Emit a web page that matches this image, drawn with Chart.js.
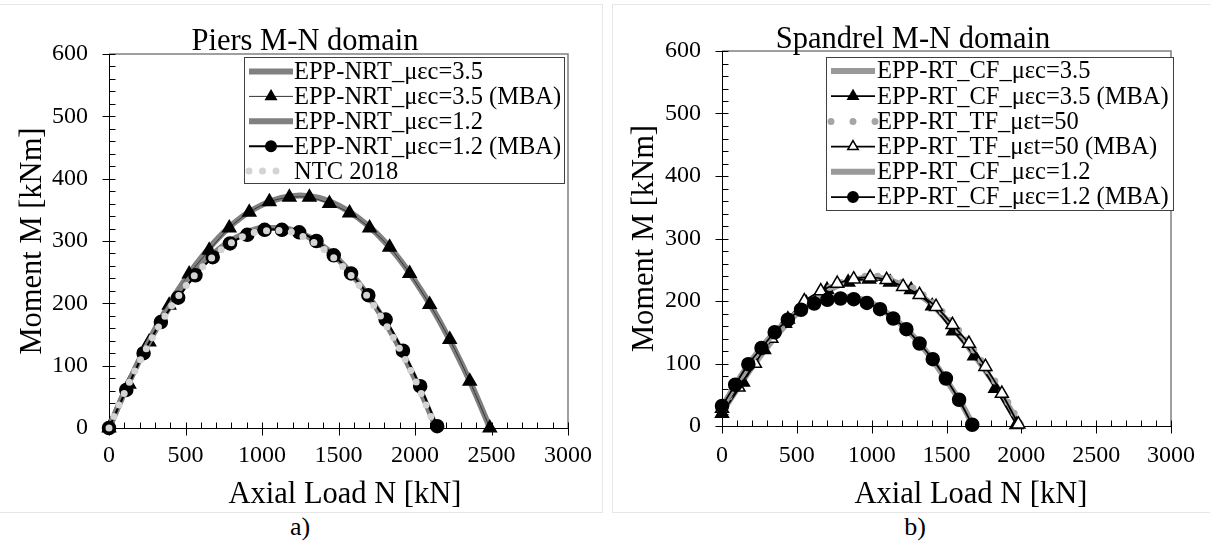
<!DOCTYPE html>
<html>
<head>
<meta charset="utf-8">
<script src="https://cdn.jsdelivr.net/npm/chart.js@4.4.1/dist/chart.umd.min.js"></script>
<style>
  html, body { margin: 0; padding: 0; background: #fff; }
  body { width: 1210px; height: 544px; position: relative; overflow: hidden; font-family: 'Liberation Serif', serif; }
  .panel { position: absolute; top: 4px; height: 507px; border: 1px solid #e6e6e6; }
  .box { position: absolute; top: 0; height: 510px; width: 605px; }
  .cap { position: absolute; top: 512px; width: 60px; line-height: 30px; font-size: 26px; text-align: center; color: #000; }
</style>
</head>
<body>
<div class="panel" style="left:-1px;width:602px"></div>
<div class="panel" style="left:612px;width:600px"></div>
<div class="box" style="left:0"><canvas id="piers"></canvas></div>
<div class="box" style="left:605px"><canvas id="spandrel"></canvas></div>
<div class="cap" style="left:270px">a)</div>
<div class="cap" style="left:885px">b)</div>
<script>
// ---- Piers M-N domain (a) ----
const piersN35 = [0, 125, 250, 375, 500, 625, 750, 875, 1000, 1125, 1250, 1375, 1500, 1625, 1750, 1875, 2000, 2125, 2250, 2375, 2490]
const piersM35 = [0, 71, 135, 191, 239, 280, 314, 340, 358, 369, 373, 369, 357, 338, 312, 278, 236, 187, 130, 66, 0]
const piersN35mba = [0, 131, 262, 393, 524, 655, 786, 917, 1048, 1179, 1310, 1441, 1572, 1703, 1834, 1965, 2096, 2227, 2358, 2489]
const piersM35mba = [0, 70, 138, 197, 247, 285, 321, 346, 363, 370, 370, 360, 345, 321, 290, 248, 198, 142, 75, 0]
const piersN12 = [0, 125, 250, 375, 500, 625, 750, 875, 1000, 1125, 1250, 1375, 1500, 1625, 1750, 1875, 2000, 2140]
const piersM12 = [0, 71, 133, 186, 231, 266, 293, 311, 321, 321, 313, 296, 270, 235, 192, 140, 79, 0]
const piersN12mba = [0, 113, 226, 339, 452, 565, 678, 791, 904, 1017, 1130, 1243, 1356, 1469, 1582, 1695, 1808, 1921, 2034, 2145]
const piersM12mba = [0, 61, 120, 170, 209, 245, 274, 296, 310, 318, 318, 314, 300, 277, 248, 213, 174, 124, 67, 3]
const piersNntc = [0, 125, 250, 375, 500, 625, 750, 875, 1000, 1125, 1250, 1375, 1500, 1625, 1750, 1875, 2000, 2135]
const piersMntc = [0, 69, 130, 183, 227, 262, 289, 307, 316, 317, 309, 292, 266, 232, 189, 138, 78, 0]

// ---- Spandrel M-N domain (b) ----
const spanN35 = [0, 125, 250, 375, 500, 625, 750, 875, 1000, 1125, 1250, 1375, 1500, 1625, 1750, 1875, 1990]
const spanM35 = [22, 68, 110, 148, 180, 205, 222, 233, 238, 233, 220, 200, 170, 133, 92, 48, 0]
const spanN35mba = [0, 140, 281, 421, 562, 702, 843, 983, 1124, 1264, 1405, 1545, 1686, 1826, 1967]
const spanM35mba = [20, 70, 122, 164, 197, 218, 230, 235, 230, 218, 192, 152, 112, 60, 2]
const spanNtf = [0, 125, 250, 375, 500, 625, 750, 875, 1000, 1125, 1250, 1375, 1500, 1625, 1750, 1875, 2000]
const spanMtf = [30, 74, 114, 152, 184, 208, 225, 236, 240, 236, 224, 204, 176, 140, 98, 52, 0]
const spanNtfmba = [0, 110, 220, 330, 440, 550, 660, 770, 880, 990, 1100, 1210, 1320, 1430, 1540, 1650, 1760, 1870, 1980]
const spanMtfmba = [28, 62, 100, 140, 171, 200, 216, 228, 235, 238, 234, 223, 210, 191, 162, 132, 95, 52, 3]
const spanN12 = [0, 100, 200, 300, 400, 500, 600, 700, 800, 900, 1000, 1100, 1200, 1300, 1400, 1500, 1600, 1680]
const spanM12 = [30, 70, 106, 136, 161, 181, 195, 203, 207, 205, 197, 181, 162, 138, 108, 73, 36, 0]
const spanN12mba = [0, 88, 176, 264, 352, 440, 528, 616, 704, 792, 880, 968, 1056, 1144, 1232, 1320, 1408, 1496, 1584, 1672]
const spanM12mba = [32, 66, 99, 125, 150, 170, 186, 196, 202, 204, 203, 197, 187, 172, 155, 132, 107, 76, 42, 2]

const xTickStep = 500
const yTickStep = 100

Chart.defaults.font.family = 'Liberation Serif'
Chart.defaults.color = '#000'

function pts(ns, ms) {
    return ns.map((n, i) => ({x: n, y: ms[i]}))
}

function thickLine(label, data, color) {
    return {label, data, borderColor: color, borderWidth: 6, pointRadius: 0, cubicInterpolationMode: 'monotone', clip: false}
}

function dotLine(label, data, color) {
    return {label, data, borderColor: color, borderWidth: 7, borderDash: [0, 12.5], borderCapStyle: 'round',
        pointRadius: 0, cubicInterpolationMode: 'monotone', clip: false}
}

function markLine(label, data, style, fill, lineColor, lineWidth, radius) {
    return {label, data, borderColor: lineColor, borderWidth: lineWidth, tension: 0.3,
        pointStyle: style, pointRadius: radius, pointBackgroundColor: fill, pointBorderColor: '#000',
        pointBorderWidth: 1.5, clip: false}
}

function drawMarker(ctx, style, x, y, r, fill) {
    ctx.beginPath()
    if (style === 'triangle') {
        let rad = 0
        ctx.moveTo(x + Math.sin(rad) * r, y - Math.cos(rad) * r)
        rad += Math.PI * 2 / 3
        ctx.lineTo(x + Math.sin(rad) * r, y - Math.cos(rad) * r)
        rad += Math.PI * 2 / 3
        ctx.lineTo(x + Math.sin(rad) * r, y - Math.cos(rad) * r)
        ctx.closePath()
    } else {
        ctx.arc(x, y, r, 0, Math.PI * 2)
    }
    ctx.fillStyle = fill
    ctx.fill()
    ctx.lineWidth = 1.5
    ctx.strokeStyle = '#000'
    ctx.setLineDash([])
    ctx.stroke()
}

// ticks crossing the axes, minor ticks inside, grey frame on top and right
const axisMarks = {
    id: 'axisMarks',
    beforeDatasetsDraw(chart) {
        const {ctx, chartArea: a, scales: {x, y}} = chart
        ctx.save()
        ctx.strokeStyle = '#808080'
        ctx.lineWidth = 1.5
        ctx.beginPath()
        ctx.moveTo(a.left, a.top)
        ctx.lineTo(a.right, a.top)
        ctx.lineTo(a.right, a.bottom)
        ctx.stroke()

        ctx.strokeStyle = '#000'
        ctx.lineWidth = 1
        ctx.beginPath()
        const yAxis = Math.round(a.bottom) + 0.5
        const xAxis = Math.round(a.left) + 0.5
        for (let v = x.min; v <= x.max; v += xTickStep / 5) {
            const px = Math.round(x.getPixelForValue(v)) + 0.5
            const major = v % xTickStep === 0
            ctx.moveTo(px, yAxis - 6)
            ctx.lineTo(px, major ? yAxis + 7 : yAxis)
        }
        for (let v = y.min; v <= y.max; v += yTickStep / 5) {
            const py = Math.round(y.getPixelForValue(v)) + 0.5
            const major = v % yTickStep === 0
            ctx.moveTo(major ? xAxis - 7 : xAxis, py)
            ctx.lineTo(xAxis + 6, py)
        }
        ctx.stroke()
        ctx.restore()
    },
    afterDraw(chart, args, o) {
        // panel title and x axis title, placed like in the original figure
        const ctx = chart.ctx
        ctx.save()
        ctx.fillStyle = '#000'
        ctx.textAlign = 'center'
        ctx.textBaseline = 'alphabetic'
        ctx.font = o.titleSize + 'px "Liberation Serif"'
        ctx.fillText(o.title, o.titleX, o.titleY)
        ctx.font = o.axisSize + 'px "Liberation Serif"'
        ctx.fillText(o.xTitle, o.xTitleX, o.xTitleY)
        ctx.restore()
    }
}

// boxed legend inside the plot, like the spreadsheet one
const boxLegend = {
    id: 'boxLegend',
    afterDatasetsDraw(chart, args, o) {
        const ctx = chart.ctx
        ctx.save()
        ctx.fillStyle = '#fff'
        ctx.fillRect(o.left, o.top, o.width, o.height)
        ctx.strokeStyle = '#404040'
        ctx.lineWidth = 1
        ctx.strokeRect(Math.round(o.left) + 0.5, Math.round(o.top) + 0.5, o.width, o.height)
        chart.data.datasets.forEach((ds, i) => {
            const cy = o.top + o.firstRow + i * o.rowH
            const x0 = o.left + o.sampleX
            const x1 = x0 + (ds.borderDash ? o.dotW : o.sampleW)
            ctx.strokeStyle = ds.borderColor
            ctx.lineWidth = ds.borderDash ? ds.borderWidth : Math.min(ds.borderWidth, 6)
            ctx.setLineDash(ds.borderDash ? [0, o.dotGap] : [])
            ctx.lineCap = ds.borderDash ? 'round' : 'butt'
            ctx.beginPath()
            ctx.moveTo(x0, cy)
            ctx.lineTo(x1, cy)
            ctx.stroke()
            if (ds.pointRadius > 0) {
                drawMarker(ctx, ds.pointStyle, o.left + o.sampleX + o.sampleW / 2, cy, ds.pointRadius * 0.8, ds.pointBackgroundColor)
            }
            ctx.setLineDash([])
            ctx.fillStyle = '#000'
            ctx.font = o.fontSize + 'px "Liberation Serif"'
            ctx.textBaseline = 'middle'
            ctx.textAlign = 'left'
            ctx.fillText(ds.label, o.left + o.textX, cy + 1)
        })
        ctx.restore()
    }
}

function buildChart(id, cfg) {
    const n = cfg.datasets.length
    cfg.datasets.forEach((ds, i) => { ds.order = n - i })
    return new Chart(document.getElementById(id), {
        type: 'line',
        data: {datasets: cfg.datasets},
        options: {
            responsive: true,
            maintainAspectRatio: false,
            animation: false,
            events: [],
            layout: {padding: {left: 0, right: cfg.padRight, top: cfg.padTop, bottom: 0}},
            plugins: {
                legend: {display: false},
                tooltip: {enabled: false},
                title: {display: false},
                axisMarks: cfg.texts,
                boxLegend: cfg.legend
            },
            scales: {
                x: {
                    type: 'linear',
                    min: 0,
                    max: 3000,
                    grid: {display: false, drawTicks: false},
                    border: {display: true, color: '#000', width: 1},
                    ticks: {stepSize: xTickStep, padding: cfg.xPad, maxRotation: 0, color: '#000', font: {size: 24},
                        callback: v => String(v)},
                    title: {display: false},
                    afterFit(s) { s.height = cfg.xHeight }
                },
                y: {
                    type: 'linear',
                    min: 0,
                    max: 600,
                    grid: {display: false, drawTicks: false},
                    border: {display: true, color: '#000', width: 1},
                    ticks: {stepSize: yTickStep, padding: cfg.yPad, color: '#000', font: {size: 24},
                        callback: v => String(v)},
                    title: {display: true, text: 'Moment M [kNm]', color: '#000', font: {size: 30.5}, padding: {top: cfg.yTitlePad, bottom: 0}},
                    afterFit(s) { s.width = cfg.yWidth }
                }
            }
        },
        plugins: [axisMarks, boxLegend]
    })
}

buildChart('piers', {
    padTop: 54, padRight: 37, xHeight: 82, yWidth: 109,
    xPad: 13, yPad: 21, yTitlePad: 15,
    texts: {title: 'Piers M-N domain', titleX: 305, titleY: 50, titleSize: 30.5,
        xTitle: 'Axial Load N [kN]', xTitleX: 345, xTitleY: 503, axisSize: 30.5},
    legend: {left: 244, top: 57, width: 320, height: 126, firstRow: 14.5, rowH: 24.9,
        sampleX: 5, sampleW: 44, dotW: 28, dotGap: 13.5, textX: 50, fontSize: 24.5},
    datasets: [
        thickLine('EPP-NRT_\u03bc\u03b5c=3.5', pts(piersN35, piersM35), '#808080'),
        markLine('EPP-NRT_\u03bc\u03b5c=3.5 (MBA)', pts(piersN35mba, piersM35mba), 'triangle', '#000', '#333', 1, 7.5),
        thickLine('EPP-NRT_\u03bc\u03b5c=1.2', pts(piersN12, piersM12), '#808080'),
        markLine('EPP-NRT_\u03bc\u03b5c=1.2 (MBA)', pts(piersN12mba, piersM12mba), 'circle', '#000', '#000', 2, 6.5),
        dotLine('NTC 2018', pts(piersNntc, piersMntc), '#d4d4d4')
    ]
})

buildChart('spandrel', {
    padTop: 51, padRight: 33, xHeight: 84, yWidth: 117,
    xPad: 15, yPad: 21, yTitlePad: 22,
    texts: {title: 'Spandrel M-N domain', titleX: 308, titleY: 48, titleSize: 30.5,
        xTitle: 'Axial Load N [kN]', xTitleX: 366, xTitleY: 503, axisSize: 30.5},
    legend: {left: 221, top: 57, width: 347, height: 153, firstRow: 14, rowH: 25.2,
        sampleX: 5, sampleW: 44, dotW: 45, dotGap: 22, textX: 51, fontSize: 24.5},
    datasets: [
        thickLine('EPP-RT_CF_\u03bc\u03b5c=3.5', pts(spanN35, spanM35), '#999999'),
        markLine('EPP-RT_CF_\u03bc\u03b5c=3.5 (MBA)', pts(spanN35mba, spanM35mba), 'triangle', '#000', '#000', 1.75, 7.5),
        dotLine('EPP-RT_TF_\u03bc\u03b5t=50', pts(spanNtf, spanMtf), '#a6a6a6'),
        markLine('EPP-RT_TF_\u03bc\u03b5t=50 (MBA)', pts(spanNtfmba, spanMtfmba), 'triangle', '#fff', '#000', 1.75, 7.5),
        thickLine('EPP-RT_CF_\u03bc\u03b5c=1.2', pts(spanN12, spanM12), '#999999'),
        markLine('EPP-RT_CF_\u03bc\u03b5c=1.2 (MBA)', pts(spanN12mba, spanM12mba), 'circle', '#000', '#000', 1.75, 6.5)
    ]
})
</script>
</body>
</html>
